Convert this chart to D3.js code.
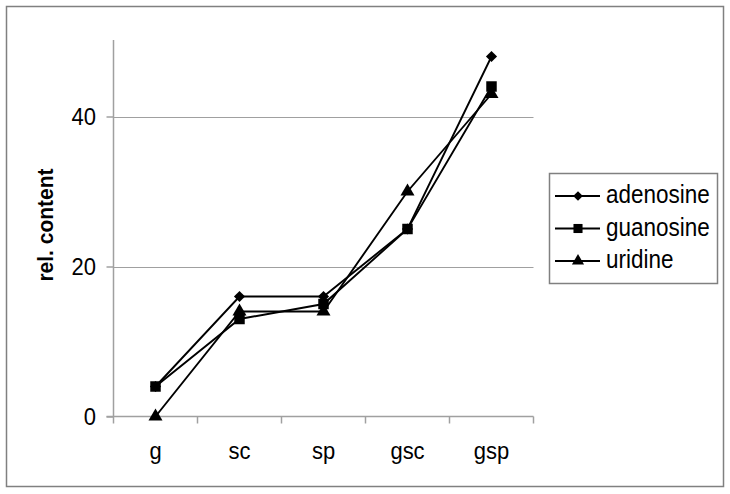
<!DOCTYPE html>
<html lang="en">
<head>
<meta charset="UTF-8">
<title>rel. content</title>
<style>
  body { margin: 0; background: #fff; }
  svg text { font-family: "Liberation Sans", Arial, sans-serif; fill: #000; }
</style>
</head>
<body>
<svg id="chart" width="730" height="494"></svg>
<script src="https://cdn.jsdelivr.net/npm/d3@7/dist/d3.min.js"></script>
<script>
const categories = ["g", "sc", "sp", "gsc", "gsp"];
const adenosine = [4, 16, 16, 25, 48];
const guanosine = [4, 13, 15, 25, 44];
const uridine = [0, 14, 14, 30, 43];
const yTicks = [0, 20, 40];

const diamond = {
  draw(ctx, size) {
    const r = Math.sqrt(size / 2);
    ctx.moveTo(0, -r); ctx.lineTo(r, 0); ctx.lineTo(0, r); ctx.lineTo(-r, 0); ctx.closePath();
  }
};

const series = [
  {name: "adenosine", values: adenosine, symbol: diamond, size: 62},
  {name: "guanosine", values: guanosine, symbol: d3.symbolSquare, size: 110},
  {name: "uridine", values: uridine, symbol: d3.symbolTriangle, size: 85}
];

const svg = d3.select("#chart");
const stretch = 1.12;   // text in the picture is a bit taller than wide

// outer frame
svg.append("rect")
  .attr("x", 6.5).attr("y", 6.5).attr("width", 717).attr("height", 480)
  .attr("fill", "none").attr("stroke", "#808080").attr("stroke-width", 1.5);

const plotL = 113.5, plotR = 533.5, plotT = 40, plotB = 416.5;

const x = d3.scaleBand().domain(categories).range([plotL, plotR]);
const y = d3.scaleLinear().domain([0, 50.2]).range([plotB, plotT]);

// gridlines
svg.append("g").selectAll("line")
  .data(yTicks.filter(d => d > 0))
  .join("line")
  .attr("x1", plotL).attr("x2", plotR)
  .attr("y1", d => Math.round(y(d)) + 0.5).attr("y2", d => Math.round(y(d)) + 0.5)
  .attr("stroke", "#a0a0a0").attr("stroke-width", 1);

// y axis
const yAxis = svg.append("g")
  .attr("transform", `translate(${plotL},0)`)
  .call(d3.axisLeft(y).tickValues(yTicks).tickSize(7).tickFormat(""));
yAxis.select(".domain").attr("d", `M0,${plotT}V${plotB}`);
yAxis.selectAll("path, line").attr("stroke", "#a0a0a0").attr("stroke-width", 1.5);
svg.append("g").selectAll("text")
  .data(yTicks)
  .join("text")
  .attr("transform", d => `translate(96,${y(d) + 8}) scale(1,${stretch})`)
  .attr("text-anchor", "end")
  .attr("font-size", 22)
  .text(d => d);

// x axis
svg.append("line")
  .attr("x1", plotL - 7).attr("x2", plotR)
  .attr("y1", plotB).attr("y2", plotB)
  .attr("stroke", "#a0a0a0").attr("stroke-width", 1.5);
const bounds = categories.map(c => x(c)).concat([plotR]);
svg.append("g").selectAll("line")
  .data(bounds)
  .join("line")
  .attr("x1", d => d).attr("x2", d => d)
  .attr("y1", plotB).attr("y2", plotB + 7)
  .attr("stroke", "#a0a0a0").attr("stroke-width", 1.5);
svg.append("g").selectAll("text")
  .data(categories)
  .join("text")
  .attr("transform", d => `translate(${x(d) + x.bandwidth() / 2},459) scale(1,${stretch})`)
  .attr("text-anchor", "middle")
  .attr("font-size", 22)
  .text(d => d);

// y label
svg.append("text")
  .attr("transform", `translate(53,225) rotate(-90) scale(1.05,1.1)`)
  .attr("text-anchor", "middle")
  .attr("font-size", 20)
  .attr("font-weight", "bold")
  .text("rel. content");

// lines + markers
const line = d3.line()
  .x((d, i) => x(categories[i]) + x.bandwidth() / 2)
  .y(d => y(d));

series.forEach(s => {
  svg.append("path")
    .datum(s.values)
    .attr("d", line)
    .attr("fill", "none")
    .attr("stroke", "#000")
    .attr("stroke-width", 1.9);
  svg.append("g").selectAll("path")
    .data(s.values)
    .join("path")
    .attr("transform", (d, i) => `translate(${x(categories[i]) + x.bandwidth() / 2},${y(d)})`)
    .attr("d", d3.symbol().type(s.symbol).size(s.size))
    .attr("fill", "#000");
});

// legend
const legend = svg.append("g");
legend.append("rect")
  .attr("x", 549.5).attr("y", 173.5).attr("width", 168).attr("height", 110)
  .attr("fill", "#fff").attr("stroke", "#808080").attr("stroke-width", 1.5);
series.forEach((s, i) => {
  const ly = 196 + i * 32.5;
  legend.append("line")
    .attr("x1", 555).attr("x2", 600).attr("y1", ly).attr("y2", ly)
    .attr("stroke", "#000").attr("stroke-width", 1.9);
  legend.append("path")
    .attr("transform", `translate(578,${ly})`)
    .attr("d", d3.symbol().type(s.symbol).size(s.size * 0.75))
    .attr("fill", "#000");
  legend.append("text")
    .attr("transform", `translate(606,${ly + 7}) scale(1,${stretch})`)
    .attr("font-size", 22.5)
    .text(s.name);
});
</script>
</body>
</html>
